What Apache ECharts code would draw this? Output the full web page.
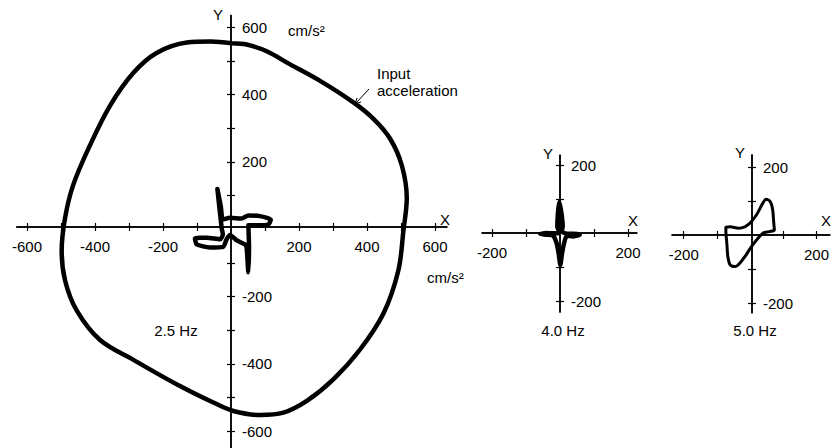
<!DOCTYPE html>
<html>
<head>
<meta charset="utf-8">
<script src="https://cdn.jsdelivr.net/npm/echarts@6/dist/echarts.min.js"></script>
<style>
html,body{margin:0;padding:0;background:#fff;}
#chart{width:832px;height:448px;}
</style>
</head>
<body>
<div id="chart"></div>
<script>
// ---- data (cm/s^2) ----
const inputAccel = [
  [2,553],[46,549],[105,529],[174,490],[262,441],[360,377],[419,328],[468,269],[502,191],[517,93],
  [507,-5],[492,-123],[448,-251],[379,-358],[301,-446],[223,-510],[154,-545],[85,-552],[7,-540],
  [-52,-515],[-150,-466],[-287,-388],[-385,-329],[-454,-241],[-488,-152],[-498,-64],[-488,34],
  [-464,132],[-415,249],[-356,367],[-287,465],[-219,524],[-130,555],[-60,558],[2,553]
];
const resp25 = [
  [-27,0],[-34,63],[-40,120],[-30,68],[-24,29],[-3,34],[31,32],[51,41],[85,39],[117,29],[110,14],
  [76,12],[51,12],[53,-54],[51,-128],[46,-54],[41,-45],[17,-33],[-3,-17],[-13,-30],[-23,-52],
  [-62,-54],[-101,-45],[-106,-27],[-71,-25],[-32,-30],[-24,-15],[-27,0]
];
const resp40 = [
  [0,0],[-8,20],[-6,60],[-2,92],[4,60],[8,20],[5,5],[20,-2],[40,-2],[58,-5],[40,-10],[20,-8],
  [12,-30],[6,-60],[1,-94],[-4,-60],[-10,-30],[-20,-8],[-40,-5],[-58,-3],[-40,0],[-20,-1],[0,0]
];
const resp50 = [
  [-1,34],[19,59],[38,93],[48,105],[61,98],[68,74],[71,39],[73,15],[58,10],[38,5],[4,-34],
  [-16,-64],[-45,-93],[-60,-88],[-67,-64],[-70,-25],[-73,10],[-73,23],[-60,24],[-35,20],[-16,24],[-1,34]
];
const bigTicks = [-600,-500,-400,-300,-200,-100,100,200,300,400,500,600];
const bigLabels = [-600,-400,-200,200,400,600];
const smallTicks = [-200,-100,100,200];
const smallLabels = [-200,200];

// ---- layout ----
const S = 0.34; // px per unit
const FONT = 'Liberation Sans';
const panels = [
  {ox:231, oy:231.5, xmin:-630, xmax:635, ymin:-650, ymax:635, ticks:bigTicks, labels:bigLabels},
  {ox:560, oy:233, xmin:-229, xmax:226, ymin:-232, ymax:229, ticks:smallTicks, labels:smallLabels},
  {ox:752, oy:235, xmin:-235, xmax:240, ymin:-229, ymax:235, ticks:smallTicks, labels:smallLabels}
];
const grids=[], xAxes=[], yAxes=[];
panels.forEach((p,i)=>{
  grids.push({left:p.ox + p.xmin*S, width:(p.xmax-p.xmin)*S, top:p.oy - p.ymax*S, height:(p.ymax-p.ymin)*S, containLabel:false});
  [false,true].forEach(inside=>{
    xAxes.push({
      gridIndex:i, type:'value', min:p.xmin, max:p.xmax, position:'bottom',
      offset: p.ymin*S,   // moves the axis from the grid bottom up to y = 0
      axisLine:{show:true, onZero:false, lineStyle:{color:'#000', width:1.5}},
      axisTick:{show:true, inside:inside, length:4, customValues:p.ticks, lineStyle:{color:'#000', width:1.2}},
      axisLabel:{show:!inside, customValues:p.labels, margin:12, fontSize:15, fontFamily:FONT, color:'#000'},
      splitLine:{show:false}
    });
    yAxes.push({
      gridIndex:i, type:'value', min:p.ymin, max:p.ymax, position:'left',
      offset: p.xmin*S,   // moves the axis from the grid left edge right to x = 0
      axisLine:{show:true, onZero:false, lineStyle:{color:'#000', width:1.5}},
      axisTick:{show:true, inside:inside, length:4, customValues:p.ticks, lineStyle:{color:'#000', width:1.2}},
      axisLabel:{show:!inside, inside:true, customValues:p.labels, margin:11, fontSize:15, fontFamily:FONT, color:'#000'},
      splitLine:{show:false}
    });
  });
});

function txt(text, x, y, align, size){
  return {type:'text', x:x, y:y, silent:true,
    style:{text:text, fill:'#000', font:(size||15)+'px "'+FONT+'"', textAlign:align||'left', textVerticalAlign:'middle'}};
}

const option = {
  animation:false,
  backgroundColor:'#fff',
  grid:grids, xAxis:xAxes, yAxis:yAxes,
  series:[
    {type:'line', xAxisIndex:0, yAxisIndex:0, data:inputAccel, showSymbol:false, smooth:0.35,
      lineStyle:{color:'#000', width:4.5}},
    {type:'line', xAxisIndex:0, yAxisIndex:0, data:resp25, showSymbol:false, smooth:0.2,
      lineStyle:{color:'#000', width:4.5, join:'round'}},
    {type:'line', xAxisIndex:2, yAxisIndex:2, data:resp40, showSymbol:false, smooth:0.2,
      lineStyle:{color:'#000', width:4.5, join:'round'}},
    {type:'line', xAxisIndex:4, yAxisIndex:4, data:resp50, showSymbol:false, smooth:0.3,
      lineStyle:{color:'#000', width:3, join:'round'}}
  ],
  graphic:[
    txt('Y', 218, 14, 'center'),
    txt('X', 445, 219, 'center'),
    txt('cm/s²', 288, 30, 'left'),
    txt('cm/s²', 427, 277, 'left'),
    txt('Input', 377, 73, 'left'),
    txt('acceleration', 377, 90, 'left'),
    txt('2.5 Hz', 176, 330, 'center'),
    txt('Y', 548, 153, 'center'),
    txt('X', 633, 220, 'center'),
    txt('4.0 Hz', 563, 330, 'center'),
    txt('Y', 740, 152, 'center'),
    txt('X', 826, 220, 'center'),
    txt('5.0 Hz', 755, 330, 'center'),
    {type:'line', silent:true, shape:{x1:369, y1:89, x2:356, y2:103}, style:{stroke:'#000', lineWidth:1}},
    {type:'polyline', silent:true, shape:{points:[[357,98],[355,104],[361,102]]}, style:{stroke:'#000', lineWidth:1, fill:null}}
  ]
};
const chart = echarts.init(document.getElementById('chart'), null, {renderer:'svg'});
chart.setOption(option);
</script>
</body>
</html>
